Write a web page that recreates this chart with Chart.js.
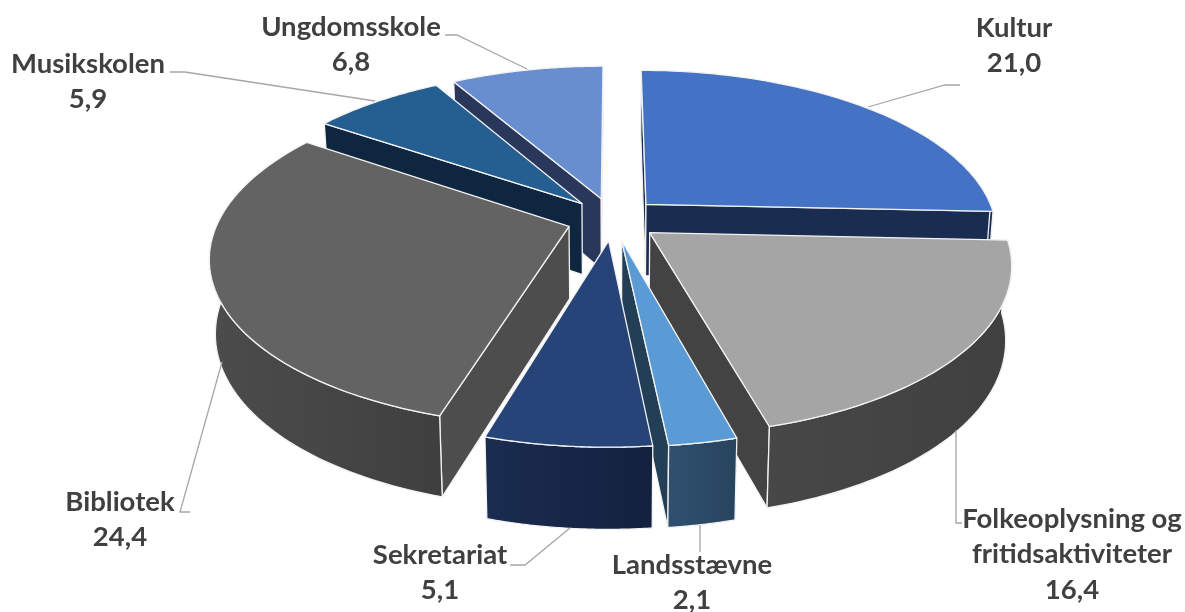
<!DOCTYPE html>
<html>
<head>
<meta charset="utf-8">
<style>
  html, body { margin: 0; padding: 0; background: #fff; }
  #wrap { width: 1185px; height: 612px; }
</style>
<script src="https://cdn.jsdelivr.net/npm/chart.js@4"></script>
</head>
<body>
<div id="wrap"><canvas id="pie" width="1185" height="612"></canvas></div>
<script>
// data
const categories = ['Kultur', 'Folkeoplysning og\nfritidsaktiviteter', 'Landsstævne', 'Sekretariat', 'Bibliotek', 'Musikskolen', 'Ungdomsskole'];
const values = [21.0, 16.4, 2.1, 5.1, 24.4, 5.9, 6.8];

// colours per slice
const topColors = ['#4472c4', '#a5a5a5', '#5b9bd5', '#264478', '#636363', '#255e91', '#698ed0'];
const cutColors = ['#1a2c50', '#434343', '#233f56', '#14264a', '#4d4d4d', '#0e2640', '#29385a'];
const wallLeft = ['#1a2c50', '#474747', '#305070', '#1a2c50', '#4c4c4c', '#0e2640', '#29385a'];
const wallRight = ['#1a2c50', '#404040', '#27445e', '#13213f', '#3f3f3f', '#0e2640', '#29385a'];

// label layout: centre x, centre y of first line
const labelPos = [[1014, 28], [1072, 519], [692, 565], [440, 555], [120, 502], [88, 64], [351, 27]];
const leaders = [
    [[960, 85], [945, 85], [868, 107]],
    [[956, 430], [956, 523], [962, 523]],
    [[700, 525], [700, 552]],
    [[510, 565], [525, 565], [570, 528]],
    [[190, 512], [180, 512], [222, 362]],
    [[170, 72], [185, 72], [375, 101]],
    [[445, 35], [457, 35], [527, 69]]
];

// fake camera for the tilted pie, fitted to the reference
const view = { cx: 613, cy: 219, rx: 350, ky: 162, persp: 5.76, depth: 72, depthFront: 9, shrink: 0.985 };

function project(X, Y, bottom) {
    const f = 1 / (1 - Y / view.persp);
    let x = X * view.rx * f;
    let y = Y * view.ky * f;
    if (bottom) {
        x *= view.shrink;
        y += view.depth + view.depthFront * Y;
    }
    return [view.cx + x, view.cy + y];
}

function tracePoly(ctx, pts) {
    ctx.beginPath();
    pts.forEach((p, i) => i ? ctx.lineTo(p[0], p[1]) : ctx.moveTo(p[0], p[1]));
    ctx.closePath();
}

function fillPoly(ctx, pts, fill) {
    tracePoly(ctx, pts);
    ctx.fillStyle = fill;
    ctx.fill();
    ctx.strokeStyle = '#f2f2f2';
    ctx.lineWidth = 1.3;
    ctx.lineJoin = 'round';
    ctx.stroke();
}

function signedArea(pts) {
    let sum = 0;
    pts.forEach((p, i) => {
        const q = pts[(i + 1) % pts.length];
        sum += p[0] * q[1] - q[0] * p[1];
    });
    return sum;
}

// draws one arc element of the chart as a slab, angles and offset come from the library
function drawSlab(ctx, arc, i) {
    const r = arc.outerRadius;
    const off = arc.options.offset / r;
    const mid = (arc.startAngle + arc.endAngle) / 2;
    const ox = Math.cos(mid) * off;
    const oy = Math.sin(mid) * off;
    const rim = (a) => [ox + Math.cos(a), oy + Math.sin(a)];
    const steps = 60;

    const topPts = [project(ox, oy)];
    for (let s = 0; s <= steps; s++) {
        const p = rim(arc.startAngle + (arc.endAngle - arc.startAngle) * s / steps);
        topPts.push(project(p[0], p[1]));
    }

    // the two cut faces, skip the one turned away from the viewer
    [[arc.startAngle, -1], [arc.endAngle, 1]].forEach(([a, sign]) => {
        const p = rim(a);
        const face = [project(ox, oy), project(p[0], p[1]), project(p[0], p[1], true), project(ox, oy, true)];
        if (signedArea(face) * sign > 0) fillPoly(ctx, face, cutColors[i]);
    });

    // outer wall, only the part turned to the viewer (sin(angle) > 0 in canvas angles)
    const from = Math.max(arc.startAngle, 0);
    const to = Math.min(arc.endAngle, Math.PI);
    if (to > from) {
        const upper = [], lower = [];
        for (let s = 0; s <= steps; s++) {
            const p = rim(from + (to - from) * s / steps);
            upper.push(project(p[0], p[1]));
            lower.unshift(project(p[0], p[1], true));
        }
        const xs = upper.map((p) => p[0]);
        const grad = ctx.createLinearGradient(Math.min(...xs), 0, Math.max(...xs), 0);
        grad.addColorStop(0, wallLeft[i]);
        grad.addColorStop(1, wallRight[i]);
        fillPoly(ctx, upper.concat(lower), grad);
    }

    fillPoly(ctx, topPts, topColors[i]);
}

const slabPlugin = {
    id: 'slabPie',
    beforeDatasetsDraw(chart) {
        const ctx = chart.ctx;
        const arcs = chart.getDatasetMeta(0).data;
        // paint back slices first
        const order = arcs.map((a, i) => i).sort((p, q) =>
            Math.sin((arcs[p].startAngle + arcs[p].endAngle) / 2) - Math.sin((arcs[q].startAngle + arcs[q].endAngle) / 2));
        ctx.save();
        order.forEach((i) => drawSlab(ctx, arcs[i], i));
        ctx.restore();
        return false; // slabs replace the flat arcs
    },
    afterDraw(chart) {
        const ctx = chart.ctx;
        ctx.save();
        ctx.strokeStyle = '#a6a6a6';
        ctx.lineWidth = 1.3;
        leaders.forEach((line) => {
            ctx.beginPath();
            line.forEach((p, i) => i ? ctx.lineTo(p[0], p[1]) : ctx.moveTo(p[0], p[1]));
            ctx.stroke();
        });
        ctx.fillStyle = '#404040';
        ctx.font = 'bold 27.5px Lato';
        ctx.textAlign = 'center';
        ctx.textBaseline = 'middle';
        categories.forEach((name, i) => {
            const lines = name.split('\n').concat(values[i].toFixed(1).replace('.', ','));
            lines.forEach((txt, k) => ctx.fillText(txt, labelPos[i][0], labelPos[i][1] + k * 35.5));
        });
        ctx.restore();
    }
};

new Chart(document.getElementById('pie'), {
    type: 'pie',
    data: {
        labels: categories,
        datasets: [{ data: values, backgroundColor: topColors, offset: 38, borderWidth: 0 }]
    },
    options: {
        responsive: false,
        animation: false,
        plugins: { legend: { display: false }, tooltip: { enabled: false } }
    },
    plugins: [slabPlugin]
});
</script>
</body>
</html>
